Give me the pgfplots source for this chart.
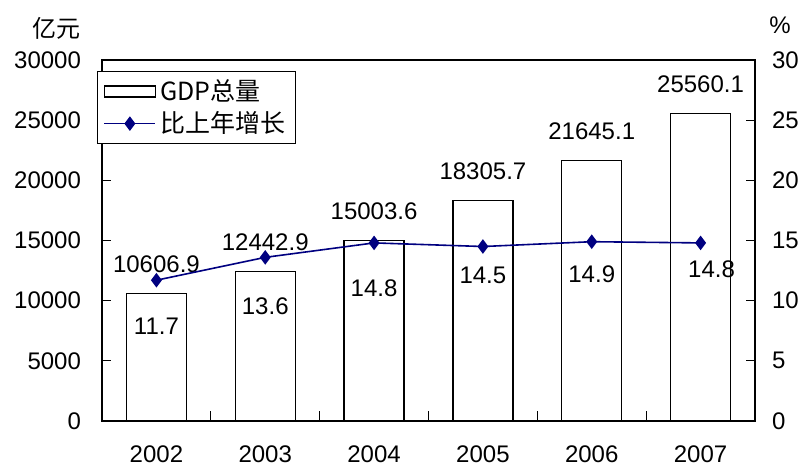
\documentclass[border=0pt]{standalone}
\usepackage{fontspec}
\setmainfont{Liberation Sans}
\newfontfamily\cjk{Noto Sans CJK SC}
\usepackage{pgfplots}
\usepackage{pgfplotstable}
\pgfplotsset{compat=1.18}
\definecolor{navyline}{RGB}{0,0,128}

% GDP, 100 million yuan
\pgfplotstableread{
x gdp
0 10606.9
1 12442.9
2 15003.6
3 18305.7
4 21645.1
5 25560.1
}\gdptab

% growth on previous year, %; dy/dx = label offsets
\pgfplotstableread{
x rate dy dx
0 11.7 -23 0
1 13.6 -24.5 0
2 14.8 -22.5 0
3 14.5 -14.5 0
4 14.9 -16.5 0
5 14.8 -13 5.5
}\ratetab

\begin{document}
\begin{tikzpicture}[font=\fontsize{12}{14}\selectfont]
\pgfplotsset{
  base/.style={
    scale only axis, width=326.5pt, height=180.5pt,
    xmin=-0.5, xmax=5.5,
    tick align=inside, major tick length=4.5pt,
    /pgf/number format/assume math mode=true,
    /pgf/number format/1000 sep={},
    scaled y ticks=false,
    tick style={black, line width=0.6pt},
    axis line style={line width=0.6pt},
    ticklabel style={font=\fontsize{12}{14}\selectfont},
  }
}
\begin{axis}[base,
  ymin=0, ymax=30000, ytick={0,5000,...,30000}, ytick pos=left,
  yticklabel style={xshift=-7pt},
  xtick={0,...,5}, xticklabels={2002,2003,2004,2005,2006,2007},
  xtick pos=left, major x tick style={draw=none},
  minor xtick={0.5,1.5,2.5,3.5,4.5}, minor tick length=5pt,
  xticklabel style={yshift=-9pt},
]
\addplot[ybar, bar width=30pt, draw=black, fill=white, line width=0.6pt,
  nodes near coords={\pgfmathprintnumber[fixed,precision=1,fixed zerofill]{\pgfplotspointmeta}},
  nodes near coords style={anchor=center, yshift=14.5pt, text=black}]
  table[x=x, y=gdp]{\gdptab};
\coordinate (SW) at (rel axis cs:0,0);
\coordinate (NE) at (rel axis cs:1,1);
\end{axis}

\begin{axis}[base,
  ymin=0, ymax=30, ytick={0,5,...,30},
  axis x line=none, axis y line*=right,
  tick align=inside,
  yticklabel style={xshift=5pt},
  legend cell align=left,
  legend style={at={(0,1)}, anchor=north west, xshift=-2.5pt, yshift=-5.5pt,
    draw=black, line width=0.6pt, fill=white,
    font=\cjk\fontsize{12.5}{14}\selectfont, row sep=0pt,
    inner xsep=3pt, inner ysep=2pt},
]
\addlegendimage{legend image code/.code={
  \draw[black, line width=0.6pt] (0pt,-2.75pt) rectangle (25.5pt,2.75pt);}}
\addlegendentry{GDP总量}
\addplot[color=navyline, line width=0.8pt, mark=diamond*, mark size=3pt,
  legend image code/.code={
    \draw[mark repeat=2, mark phase=2] plot coordinates {(0pt,0pt) (12.75pt,0pt) (25.5pt,0pt)};},
  point meta=\thisrow{rate},
  visualization depends on={\thisrow{dy} \as \dy},
  visualization depends on={\thisrow{dx} \as \dx},
  nodes near coords={\pgfmathprintnumber[fixed,precision=1,fixed zerofill]{\pgfplotspointmeta}},
  nodes near coords style={anchor=center, text=black, yshift=\dy pt, xshift=\dx pt,
    font=\fontsize{12}{14}\selectfont}]
  table[x=x, y=rate]{\ratetab};
\addlegendentry{比上年增长}
\end{axis}
\node at ([xshift=-22.5pt, yshift=16pt]SW |- NE) {\cjk 亿元};
\node at ([xshift=12.5pt, yshift=17.5pt]NE) {\%};
\pgfresetboundingbox
\path ([xshift=-51pt, yshift=-22.5pt]SW) rectangle ([xshift=24pt, yshift=30pt]NE);
\end{tikzpicture}
\end{document}
